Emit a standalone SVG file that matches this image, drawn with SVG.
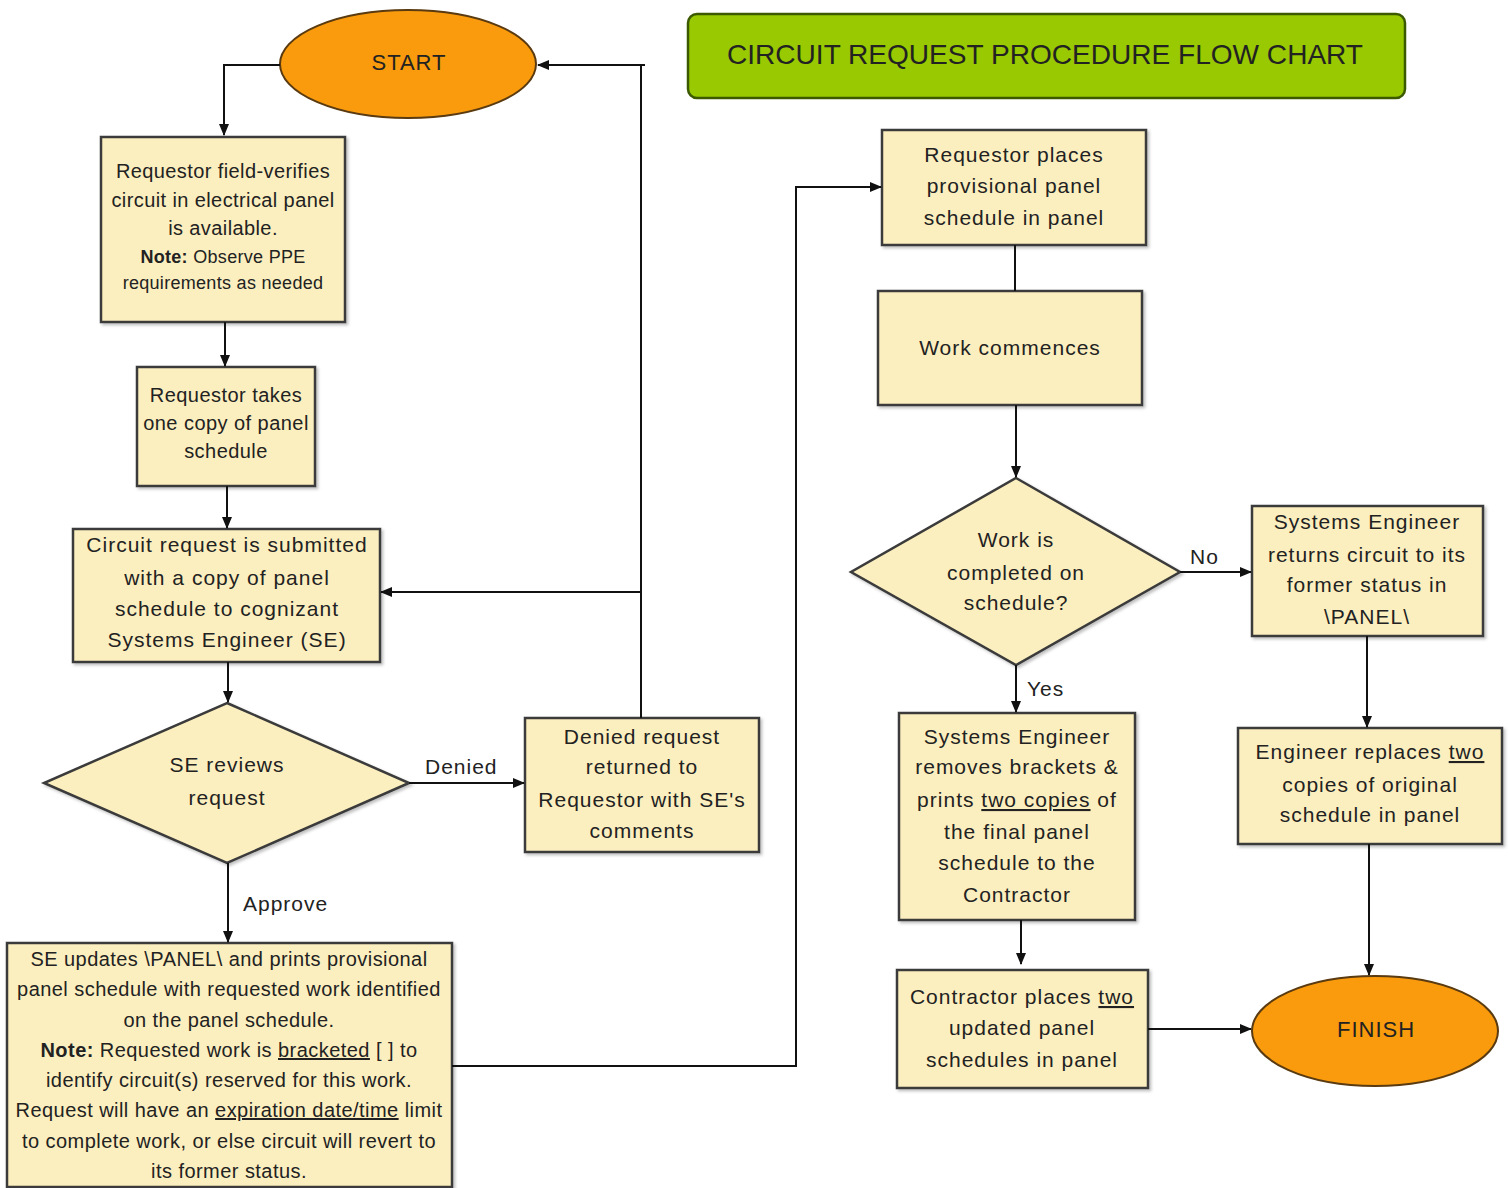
<svg xmlns="http://www.w3.org/2000/svg" width="1509" height="1188" viewBox="0 0 1509 1188">
<defs>
<marker id="ah" markerWidth="12" markerHeight="10" refX="11" refY="5" orient="auto" markerUnits="userSpaceOnUse">
<path d="M0,0 L12,5 L0,10 z" fill="#111"/>
</marker>
<filter id="sh" x="-5%" y="-5%" width="115%" height="115%">
<feDropShadow dx="2" dy="2" stdDeviation="1.5" flood-color="#000" flood-opacity="0.25"/>
</filter>
</defs>
<style>
.box{fill:#fcefbf;stroke:#3a3a3a;stroke-width:2.5;filter:url(#sh)}
.ell{fill:#f99b0c;stroke:#5a3a10;stroke-width:2}
.t{font-family:"Liberation Sans",Arial,sans-serif;font-size:21px;letter-spacing:1px;fill:#222;text-anchor:middle}
.s{font-size:20px;letter-spacing:0.4px}
.n{font-size:18px;letter-spacing:0.3px}
.m{font-size:20px;letter-spacing:0.45px}
.b{font-weight:bold}
.u{text-decoration:underline}
.lbl{font-family:"Liberation Sans",Arial,sans-serif;font-size:21px;letter-spacing:1px;fill:#222}
.c{fill:none;stroke:#111;stroke-width:2}
</style>
<rect width="1509" height="1188" fill="#fff"/>

<g id="title">
<rect x="688" y="14" width="717" height="84" rx="9" fill="#99c900" stroke="#3b5a00" stroke-width="2.5"/>
<text class="t" x="1045" y="64" style="font-size:28px;letter-spacing:0" textLength="636" lengthAdjust="spacingAndGlyphs">CIRCUIT REQUEST PROCEDURE FLOW CHART</text>
</g>

<g id="start">
<ellipse class="ell" cx="408" cy="64" rx="128" ry="54"/>
<text class="t" x="409" y="70" style="font-size:22px">START</text>
</g>

<g id="verify">
<rect class="box" x="101" y="137" width="244" height="185"/>
<text class="t s" x="223" y="178">Requestor field-verifies</text>
<text class="t s" x="223" y="207">circuit in electrical panel</text>
<text class="t s" x="223" y="235">is available.</text>
<text class="t n" x="223" y="263"><tspan class="b">Note:</tspan> Observe PPE</text>
<text class="t n" x="223" y="289">requirements as needed</text>
</g>

<g id="takecopy">
<rect class="box" x="137" y="367" width="178" height="119"/>
<text class="t m" x="226" y="402">Requestor takes</text>
<text class="t m" x="226" y="430">one copy of panel</text>
<text class="t m" x="226" y="458">schedule</text>
</g>

<g id="submit">
<rect class="box" x="73" y="529" width="307" height="133"/>
<text class="t" x="227" y="552">Circuit request is submitted</text>
<text class="t" x="227" y="585">with a copy of panel</text>
<text class="t" x="227" y="616">schedule to cognizant</text>
<text class="t" x="227" y="647">Systems Engineer (SE)</text>
</g>

<g id="review">
<polygon class="box" points="227,703 409,783 227,863 44,783"/>
<text class="t" x="227" y="772">SE reviews</text>
<text class="t" x="227" y="805">request</text>
</g>

<g id="denied">
<rect class="box" x="525" y="718" width="234" height="134"/>
<text class="t" x="642" y="744">Denied request</text>
<text class="t" x="642" y="774">returned to</text>
<text class="t" x="642" y="807">Requestor with SE's</text>
<text class="t" x="642" y="838">comments</text>
</g>

<g id="update">
<rect class="box" x="7" y="943" width="445" height="244"/>
<text class="t m" x="229" y="966">SE updates \PANEL\ and prints provisional</text>
<text class="t m" x="229" y="996">panel schedule with requested work identified</text>
<text class="t m" x="229" y="1027">on the panel schedule.</text>
<text class="t m" x="229" y="1057"><tspan class="b">Note:</tspan> Requested work is <tspan class="u">bracketed</tspan> [ ] to</text>
<text class="t m" x="229" y="1087">identify circuit(s) reserved for this work.</text>
<text class="t m" x="229" y="1117">Request will have an <tspan class="u">expiration date/time</tspan> limit</text>
<text class="t m" x="229" y="1148">to complete work, or else circuit will revert to</text>
<text class="t m" x="229" y="1178">its former status.</text>
</g>

<g id="places">
<rect class="box" x="882" y="130" width="264" height="115"/>
<text class="t" x="1014" y="162">Requestor places</text>
<text class="t" x="1014" y="193">provisional panel</text>
<text class="t" x="1014" y="225">schedule in panel</text>
</g>

<g id="commences">
<rect class="box" x="878" y="291" width="264" height="114"/>
<text class="t" x="1010" y="355">Work commences</text>
</g>

<g id="completed">
<polygon class="box" points="1016,478 1180,572 1016,665 851,572"/>
<text class="t" x="1016" y="547">Work is</text>
<text class="t" x="1016" y="580">completed on</text>
<text class="t" x="1016" y="610">schedule?</text>
</g>

<g id="returns">
<rect class="box" x="1252" y="506" width="231" height="130"/>
<text class="t" x="1367" y="529">Systems Engineer</text>
<text class="t" x="1367" y="562">returns circuit to its</text>
<text class="t" x="1367" y="592">former status in</text>
<text class="t" x="1367" y="624">\PANEL\</text>
</g>

<g id="removes">
<rect class="box" x="899" y="713" width="236" height="207"/>
<text class="t" x="1017" y="744">Systems Engineer</text>
<text class="t" x="1017" y="774">removes brackets &amp;</text>
<text class="t" x="1017" y="807">prints <tspan class="u">two copies</tspan> of</text>
<text class="t" x="1017" y="839">the final panel</text>
<text class="t" x="1017" y="870">schedule to the</text>
<text class="t" x="1017" y="902">Contractor</text>
</g>

<g id="replaces">
<rect class="box" x="1238" y="728" width="264" height="116"/>
<text class="t" x="1370" y="759">Engineer replaces <tspan class="u">two</tspan></text>
<text class="t" x="1370" y="792">copies of original</text>
<text class="t" x="1370" y="822">schedule in panel</text>
</g>

<g id="contractor">
<rect class="box" x="897" y="970" width="251" height="118"/>
<text class="t" x="1022" y="1004">Contractor places <tspan class="u">two</tspan></text>
<text class="t" x="1022" y="1035">updated panel</text>
<text class="t" x="1022" y="1067">schedules in panel</text>
</g>

<g id="finish">
<ellipse class="ell" cx="1375" cy="1031" rx="123" ry="55"/>
<text class="t" x="1376" y="1037" style="font-size:22px">FINISH</text>
</g>

<g id="connectors">
<path class="c" d="M280,65 H224 V135" marker-end="url(#ah)"/>
<path class="c" d="M225,322 V366" marker-end="url(#ah)"/>
<path class="c" d="M227,486 V528" marker-end="url(#ah)"/>
<path class="c" d="M228,662 V702" marker-end="url(#ah)"/>
<path class="c" d="M409,783 H524" marker-end="url(#ah)"/>
<path class="c" d="M228,863 V942" marker-end="url(#ah)"/>
<path class="c" d="M641,718 V65"/>
<path class="c" d="M645,65 H538" marker-end="url(#ah)"/>
<path class="c" d="M641,592 H381" marker-end="url(#ah)"/>
<path class="c" d="M452,1066 H796 V187 H881" marker-end="url(#ah)"/>
<path class="c" d="M1015,245 V291"/>
<path class="c" d="M1016,405 V477" marker-end="url(#ah)"/>
<path class="c" d="M1180,572 H1251" marker-end="url(#ah)"/>
<path class="c" d="M1016,665 V712" marker-end="url(#ah)"/>
<path class="c" d="M1367,636 V727" marker-end="url(#ah)"/>
<path class="c" d="M1021,920 V964" marker-end="url(#ah)"/>
<path class="c" d="M1148,1029 H1251" marker-end="url(#ah)"/>
<path class="c" d="M1369,844 V975" marker-end="url(#ah)"/>
<text class="lbl" x="425" y="774">Denied</text>
<text class="lbl" x="243" y="911">Approve</text>
<text class="lbl" x="1190" y="564">No</text>
<text class="lbl" x="1027" y="696">Yes</text>
</g>
</svg>
